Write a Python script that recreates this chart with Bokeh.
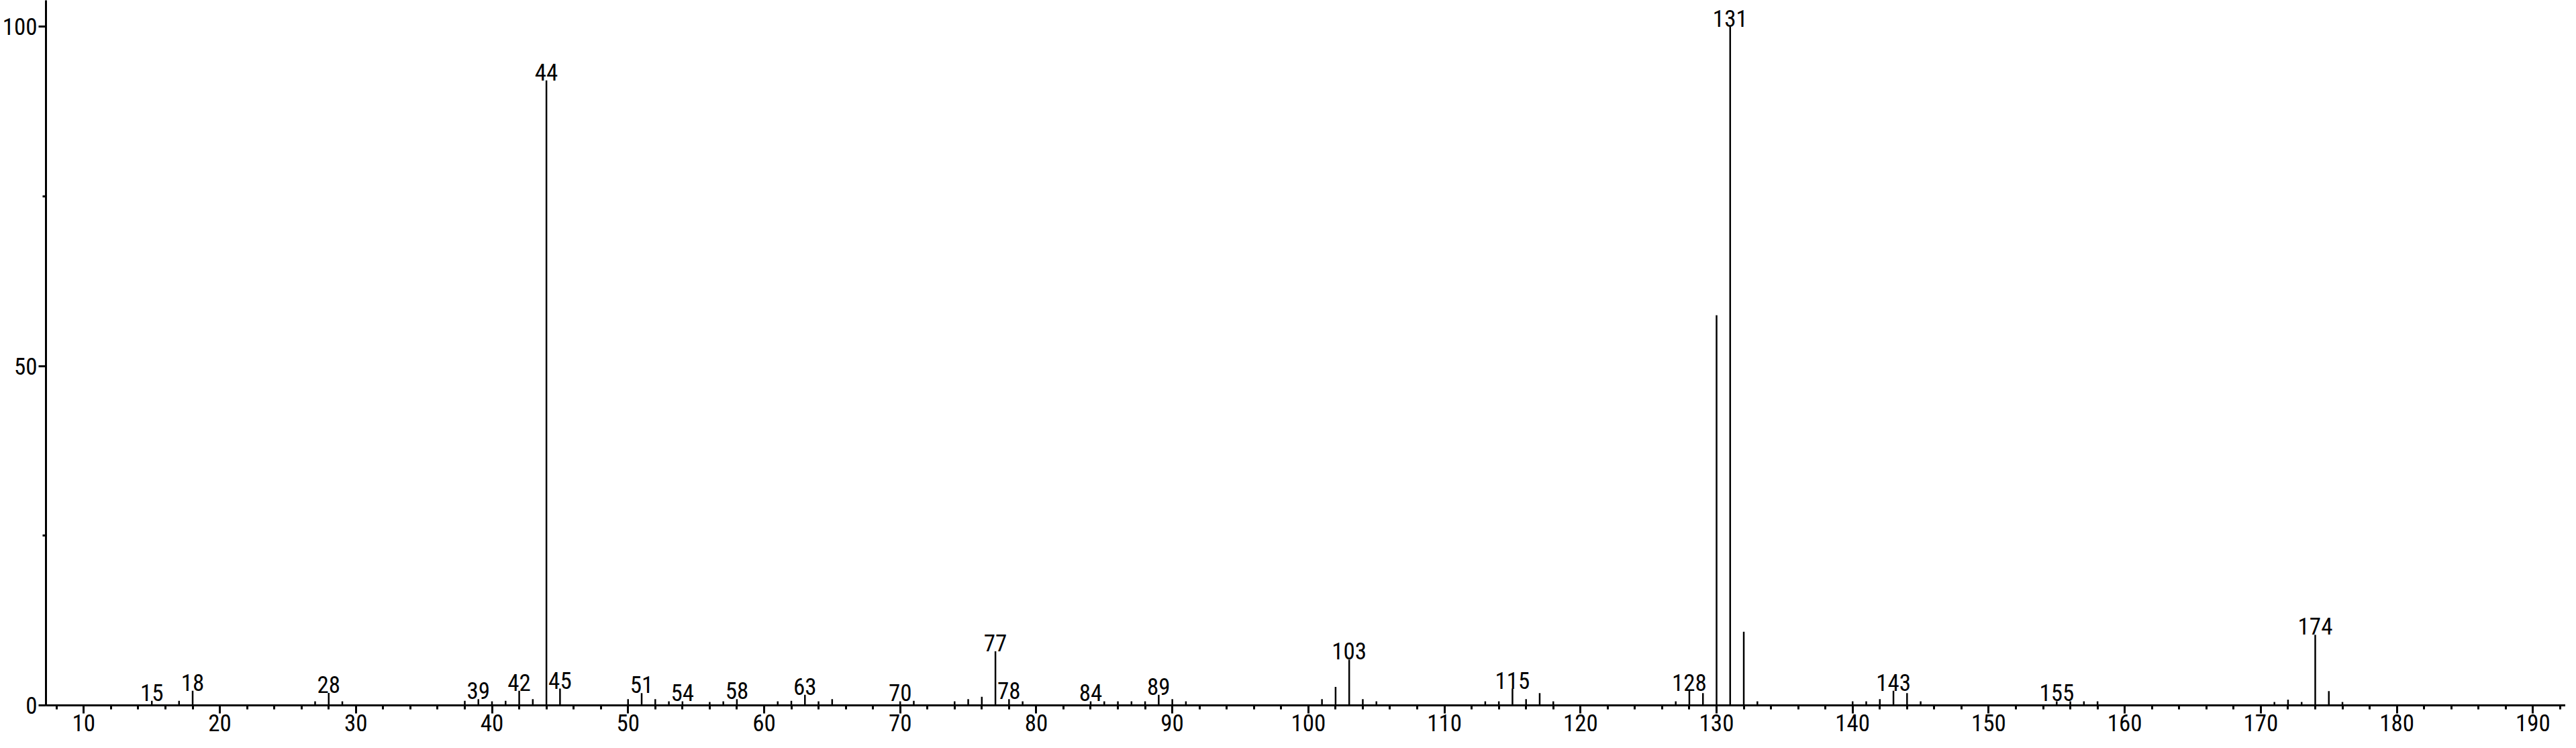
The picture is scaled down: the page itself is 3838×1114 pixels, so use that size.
from bokeh.plotting import figure
from bokeh.models import Range1d, FixedTicker, SingleIntervalTicker, ColumnDataSource
from bokeh.core.properties import value
from bokeh.embed import file_html
from bokeh.resources import INLINE

# m/z and relative intensity (%)
mz = [15, 17, 18, 27, 28, 29, 38, 39, 40, 41, 42, 43, 44, 45, 50, 51, 52, 53, 54, 56,
      57, 58, 61, 62, 63, 64, 65, 70, 71, 74, 75, 76, 77, 78, 79, 84, 85, 86, 87, 88,
      89, 90, 91, 101, 102, 103, 104, 105, 113, 114, 115, 116, 117, 118, 127, 128, 129,
      130, 131, 132, 133, 140, 141, 142, 143, 144, 145, 155, 156, 157, 158, 171, 172,
      173, 174, 175, 176]
intensity = [0.66, 0.66, 2.14, 0.6, 1.84, 0.6, 0.66, 0.92, 0.6, 0.66, 2.14, 0.92, 92.1, 2.47,
             0.92, 1.8, 0.92, 0.6, 0.6, 0.5, 0.6, 0.92, 0.6, 0.66, 1.55, 0.6, 0.92, 0.6,
             0.66, 0.6, 0.92, 1.25, 7.97, 0.92, 0.6, 0.6, 0.6, 0.6, 0.6, 0.6, 1.55, 0.92,
             0.6, 0.92, 2.73, 6.74, 0.92, 0.6, 0.6, 0.6, 2.47, 0.92, 1.8, 0.6, 0.6, 2.14,
             1.8, 57.5, 100.0, 10.85, 0.6, 0.6, 0.6, 0.92, 2.14, 1.8, 0.6, 0.6, 0.6, 0.6,
             0.6, 0.5, 0.85, 0.5, 10.4, 2.1, 0.5]
labeled_mz = [15, 18, 28, 39, 42, 44, 45, 51, 54, 58, 63, 70, 77, 78, 84, 89, 103, 115,
              128, 131, 143, 155, 174]
x_ticks_interval = 10
y_ticks = [0, 50, 100]
y_minor_ticks = [25, 75]

FONT = "Liberation Sans Narrow, Arial Narrow, Roboto Condensed, Liberation Sans, sans-serif"
FS = "35px"

inten_map = dict(zip(mz, intensity))
lab_y = [max(inten_map[m], 0.66) for m in labeled_mz]
lab_src = ColumnDataSource(dict(x=labeled_mz, y=lab_y, t=[str(m) for m in labeled_mz]))
src = ColumnDataSource(dict(x=mz, y0=[0] * len(mz), y1=intensity))

p = figure(width=3822, height=1098, output_backend="svg", toolbar_location=None,
           x_range=Range1d(7.22, 192.4), y_range=Range1d(0, 103.9),
           min_border_left=0, min_border_right=0, min_border_top=0, min_border_bottom=48)
p.outline_line_color = None
p.xgrid.visible = False
p.ygrid.visible = False
p.background_fill_color = "white"
p.border_fill_color = "white"

p.segment(x0="x", y0="y0", x1="x", y1="y1", source=src, line_color="black", line_width=2.5)
p.text(x="x", y="y", text="t", source=lab_src, text_font=value(FONT), text_font_size=FS,
       text_align="center", text_baseline="bottom", y_offset=0, text_color="black")

xa = p.xaxis[0]
xa.ticker = SingleIntervalTicker(interval=x_ticks_interval, num_minor_ticks=5)
ya = p.yaxis[0]
ya.ticker = FixedTicker(ticks=y_ticks, minor_ticks=y_minor_ticks)
for ax in (xa, ya):
    ax.axis_line_width = 3
    ax.axis_line_color = "black"
    ax.major_tick_line_width = 3
    ax.minor_tick_line_width = 3
    ax.major_tick_line_color = "black"
    ax.minor_tick_line_color = "black"
    ax.major_tick_in = 0
    ax.minor_tick_in = 0
    ax.major_label_text_font = FONT
    ax.major_label_text_font_size = FS
    ax.major_label_text_color = "black"
xa.major_tick_out = 12
xa.minor_tick_out = 6
xa.major_label_standoff = 1
ya.major_tick_out = 11
ya.minor_tick_out = 5
ya.major_label_standoff = 2

open("out.html", "w").write(file_html(p, INLINE))
